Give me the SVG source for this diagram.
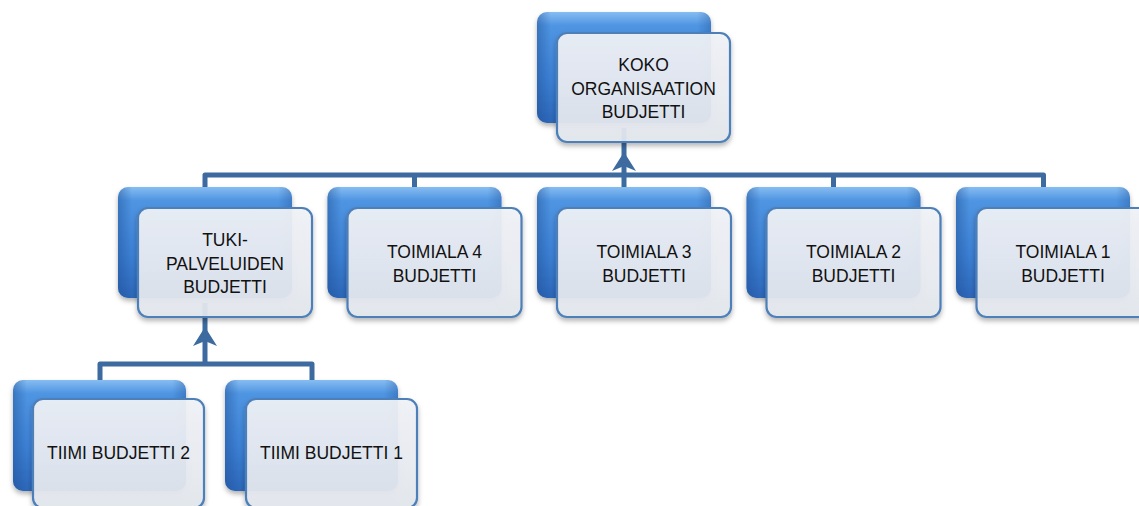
<svg xmlns="http://www.w3.org/2000/svg" width="1139" height="506" viewBox="0 0 1139 506">
<defs>
<linearGradient id="gBack" x1="0" y1="0" x2="0" y2="1">
<stop offset="0" stop-color="#86BDF2"/>
<stop offset="0.12" stop-color="#4F95E2"/>
<stop offset="0.6" stop-color="#3C80D4"/>
<stop offset="1" stop-color="#2C66B8"/>
</linearGradient>
<linearGradient id="gBackSide" x1="0" y1="0" x2="1" y2="0">
<stop offset="0" stop-color="#1F4F94" stop-opacity="0.45"/>
<stop offset="0.08" stop-color="#1F4F94" stop-opacity="0"/>
<stop offset="0.92" stop-color="#1F4F94" stop-opacity="0"/>
<stop offset="1" stop-color="#1F4F94" stop-opacity="0.35"/>
</linearGradient>
<linearGradient id="gFront" x1="0" y1="0" x2="0" y2="1">
<stop offset="0" stop-color="#F1F3F7"/>
<stop offset="1" stop-color="#E3E7EE"/>
</linearGradient>
<filter id="sh" x="-10%" y="-10%" width="130%" height="130%">
<feDropShadow dx="0" dy="3" stdDeviation="2.5" flood-color="#000" flood-opacity="0.3"/>
</filter>
<g id="arrow"><path d="M0,0 L12,19 L0,14 L-12,19 Z"/></g>
</defs>
<style>
.conn{fill:none;stroke:#3D6BA0;stroke-width:5;stroke-linejoin:round}
.ah{fill:#3D6BA0}
.back{fill:url(#gBack);filter:url(#sh)}
.side{fill:url(#gBackSide)}
.front{fill:url(#gFront);fill-opacity:0.93;stroke:#4E7FB8;stroke-width:2.2;filter:url(#sh)}
text{font-family:"Liberation Sans",Arial,sans-serif;font-size:17.5px;fill:#111;text-anchor:middle}
</style>
<g id="connectors">
<path class="conn" d="M205,188 V175 H1043.5 V188"/>
<path class="conn" d="M414.5,175 V188"/>
<path class="conn" d="M833.5,175 V188"/>
<path class="conn" d="M624,188 V128"/>
<use href="#arrow" class="ah" x="624" y="152"/>
<path class="conn" d="M100,381 V364 H312 V381"/>
<path class="conn" d="M205,364 V303"/>
<use href="#arrow" class="ah" x="205" y="327"/>
</g>
<g id="n-koko">
<rect class="back" x="537" y="12" width="174" height="111" rx="10"/>
<rect class="side" x="537" y="12" width="174" height="111" rx="10"/>
<rect class="front" x="557" y="33" width="173" height="109" rx="10"/>
<text x="643.5" y="71">KOKO</text>
<text x="643.5" y="94.5">ORGANISAATION</text>
<text x="643.5" y="118">BUDJETTI</text>
</g>
<g id="n-tuki">
<rect class="back" x="118" y="187" width="174" height="111" rx="10"/>
<rect class="side" x="118" y="187" width="174" height="111" rx="10"/>
<rect class="front" x="138" y="208" width="174" height="109" rx="10"/>
<text x="225" y="246">TUKI-</text>
<text x="225" y="269.5">PALVELUIDEN</text>
<text x="225" y="293">BUDJETTI</text>
</g>
<g id="n-t4">
<rect class="back" x="327.5" y="187" width="174" height="111" rx="10"/>
<rect class="side" x="327.5" y="187" width="174" height="111" rx="10"/>
<rect class="front" x="347.5" y="208" width="174" height="109" rx="10"/>
<text x="434.5" y="258">TOIMIALA 4</text>
<text x="434.5" y="282">BUDJETTI</text>
</g>
<g id="n-t3">
<rect class="back" x="537" y="187" width="174" height="111" rx="10"/>
<rect class="side" x="537" y="187" width="174" height="111" rx="10"/>
<rect class="front" x="557" y="208" width="174" height="109" rx="10"/>
<text x="644" y="258">TOIMIALA 3</text>
<text x="644" y="282">BUDJETTI</text>
</g>
<g id="n-t2">
<rect class="back" x="746.5" y="187" width="174" height="111" rx="10"/>
<rect class="side" x="746.5" y="187" width="174" height="111" rx="10"/>
<rect class="front" x="766.5" y="208" width="174" height="109" rx="10"/>
<text x="853.5" y="258">TOIMIALA 2</text>
<text x="853.5" y="282">BUDJETTI</text>
</g>
<g id="n-t1">
<rect class="back" x="956" y="187" width="174" height="111" rx="10"/>
<rect class="side" x="956" y="187" width="174" height="111" rx="10"/>
<rect class="front" x="976.5" y="208" width="174" height="109" rx="10"/>
<text x="1063" y="258">TOIMIALA 1</text>
<text x="1063" y="282">BUDJETTI</text>
</g>
<g id="n-tiimi2">
<rect class="back" x="13" y="380" width="173" height="111" rx="10"/>
<rect class="side" x="13" y="380" width="173" height="111" rx="10"/>
<rect class="front" x="33" y="399" width="171" height="109" rx="10"/>
<text x="118.5" y="459">TIIMI BUDJETTI 2</text>
</g>
<g id="n-tiimi1">
<rect class="back" x="225" y="380" width="173" height="111" rx="10"/>
<rect class="side" x="225" y="380" width="173" height="111" rx="10"/>
<rect class="front" x="246" y="399" width="171" height="109" rx="10"/>
<text x="331.5" y="459">TIIMI BUDJETTI 1</text>
</g>
</svg>
